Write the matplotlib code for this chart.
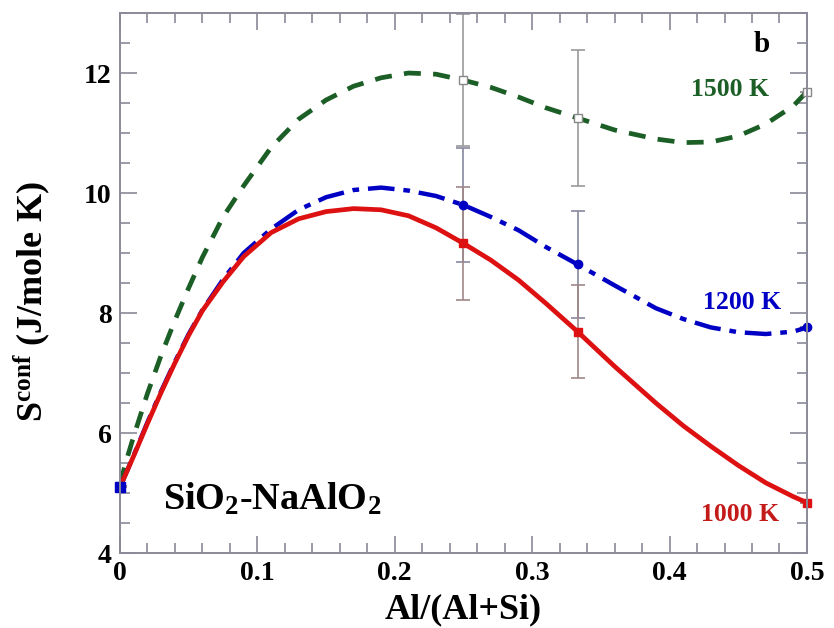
import matplotlib
matplotlib.use('Agg')
import matplotlib.pyplot as plt
from matplotlib.ticker import MultipleLocator

plt.rcParams['font.family'] = ['Liberation Serif', 'DejaVu Serif']
plt.rcParams['font.weight'] = 'bold'
plt.rcParams['mathtext.fontset'] = 'custom'
plt.rcParams['mathtext.rm'] = 'Liberation Serif:bold'
plt.rcParams['mathtext.bf'] = 'Liberation Serif:bold'
plt.rcParams['mathtext.it'] = 'Liberation Serif:bold:italic'
plt.rcParams['mathtext.default'] = 'rm'

# simulation points (with error bars)
sim_x = [0.0, 0.25, 0.3333, 0.5]
s1500_sim = [5.12, 11.88, 11.25, 11.69]
s1200_sim = [5.10, 9.80, 8.81, 7.76]
s1000_sim = [5.10, 9.16, 7.69, 4.84]
err1500 = [0.0, 1.10, 1.13, 0.0]
err1200 = [0.0, 0.95, 0.89, 0.0]
err1000 = [0.0, 0.94, 0.77, 0.0]

# smooth curves
fit_x = [0, 0.005, 0.01, 0.02, 0.03, 0.04, 0.05, 0.06, 0.075, 0.09, 0.11,
         0.13, 0.15, 0.17, 0.19, 0.21, 0.23, 0.25, 0.27, 0.29, 0.31, 0.333,
         0.36, 0.39, 0.41, 0.43, 0.45, 0.47, 0.49, 0.5]
s1500_fit = [5.15, 5.57, 5.95, 6.66, 7.3, 7.88, 8.42, 8.93, 9.6, 10.12, 10.76,
             11.23, 11.55, 11.78, 11.92, 12.0, 11.98, 11.88, 11.76, 11.6, 11.42, 11.25,
             11.05, 10.9, 10.84, 10.85, 10.95, 11.15, 11.45, 11.69]
s1200_fit = [5.1, 5.36, 5.63, 6.18, 6.7, 7.19, 7.65, 8.05, 8.56, 9.0, 9.4,
             9.72, 9.93, 10.05, 10.09, 10.04, 9.95, 9.8, 9.6, 9.38, 9.1, 8.81,
             8.46, 8.08, 7.9, 7.76, 7.68, 7.65, 7.69, 7.76]
s1000_fit = [5.1, 5.36, 5.62, 6.16, 6.68, 7.17, 7.63, 8.04, 8.52, 8.94, 9.34,
             9.57, 9.69, 9.74, 9.72, 9.62, 9.42, 9.16, 8.88, 8.55, 8.16, 7.69,
             7.11, 6.5, 6.12, 5.78, 5.46, 5.17, 4.94, 4.84]

green = '#1b5e26'
blue = '#0000c4'
red = '#dd1111'
axis_col = '#8a8a98'

fig = plt.figure(figsize=(8.34, 6.28), dpi=100)
ax = fig.add_axes([0.1439, 0.1194, 0.8237, 0.8599])

# error bars
ax.errorbar(sim_x, s1500_sim, yerr=err1500, fmt='none', ecolor='#999999', elinewidth=1.2, capsize=5, capthick=1.2)
ax.errorbar(sim_x, s1200_sim, yerr=err1200, fmt='none', ecolor='#8888a0', elinewidth=1.2, capsize=5, capthick=1.2)
ax.errorbar(sim_x, s1000_sim, yerr=err1000, fmt='none', ecolor='#a08888', elinewidth=1.2, capsize=5, capthick=1.2)

# curves
ax.plot(fit_x, s1500_fit, color=green, lw=3.4, dashes=(3.6, 2.6), dash_joinstyle='round')
ax.plot(fit_x, s1200_fit, color=blue, lw=3.2, dashes=(6, 2, 1.5, 2), dash_joinstyle='round')
ax.plot(fit_x, s1000_fit, color=red, lw=3.4, solid_capstyle='round', solid_joinstyle='round')

# markers
ax.plot(sim_x, s1500_sim, 's', ms=6, mfc='white', mec='#888888', mew=1, clip_on=False)
ax.plot(sim_x, s1200_sim, 'o', ms=6, color=blue, clip_on=False)
ax.plot(sim_x, s1000_sim, 's', ms=6, color=red, clip_on=False)
ax.plot([sim_x[0]], [s1200_sim[0]], 's', ms=7, color=blue, clip_on=False)

ax.set_xlim(0, 0.5)
ax.set_ylim(4, 13)
ax.xaxis.set_major_locator(MultipleLocator(0.1))
ax.xaxis.set_minor_locator(MultipleLocator(0.02))
ax.yaxis.set_major_locator(MultipleLocator(2))
ax.yaxis.set_minor_locator(MultipleLocator(0.5))
ax.set_xticks([0, 0.1, 0.2, 0.3, 0.4, 0.5])
ax.set_xticklabels(['0', '0.1', '0.2', '0.3', '0.4', '0.5'])
ax.tick_params(which='both', direction='in', top=True, right=True, color=axis_col, width=1.2)
ax.tick_params(which='major', length=12, labelsize=20, pad=6)
ax.tick_params(which='minor', length=7)
for sp in ax.spines.values():
    sp.set_color(axis_col)
    sp.set_linewidth(1.4)

ax.set_xlabel('Al/(Al+Si)', fontsize=26, fontweight='bold', labelpad=5)
ax.set_ylabel(r'S$^{\rm conf}$ (J/mole K)', fontsize=26, fontweight='bold')
ax.yaxis.set_label_coords(-0.098, 0.465)

ax.text(0.0313, 4.72, r'SiO$_2$-NaAlO$_2$', fontsize=27.5, fontweight='bold', ha='left', va='baseline')
ax.text(0.467, 12.47, 'b', fontsize=21, fontweight='bold', ha='center', va='center')
ax.text(0.444, 11.72, '1500 K', fontsize=18.5, fontweight='bold', color=green, ha='center', va='center')
ax.text(0.453, 8.17, '1200 K', fontsize=18.5, fontweight='bold', color=blue, ha='center', va='center')
ax.text(0.451, 4.65, '1000 K', fontsize=18.5, fontweight='bold', color='#c41a1a', ha='center', va='center')

fig.savefig('out.png', dpi=100)
